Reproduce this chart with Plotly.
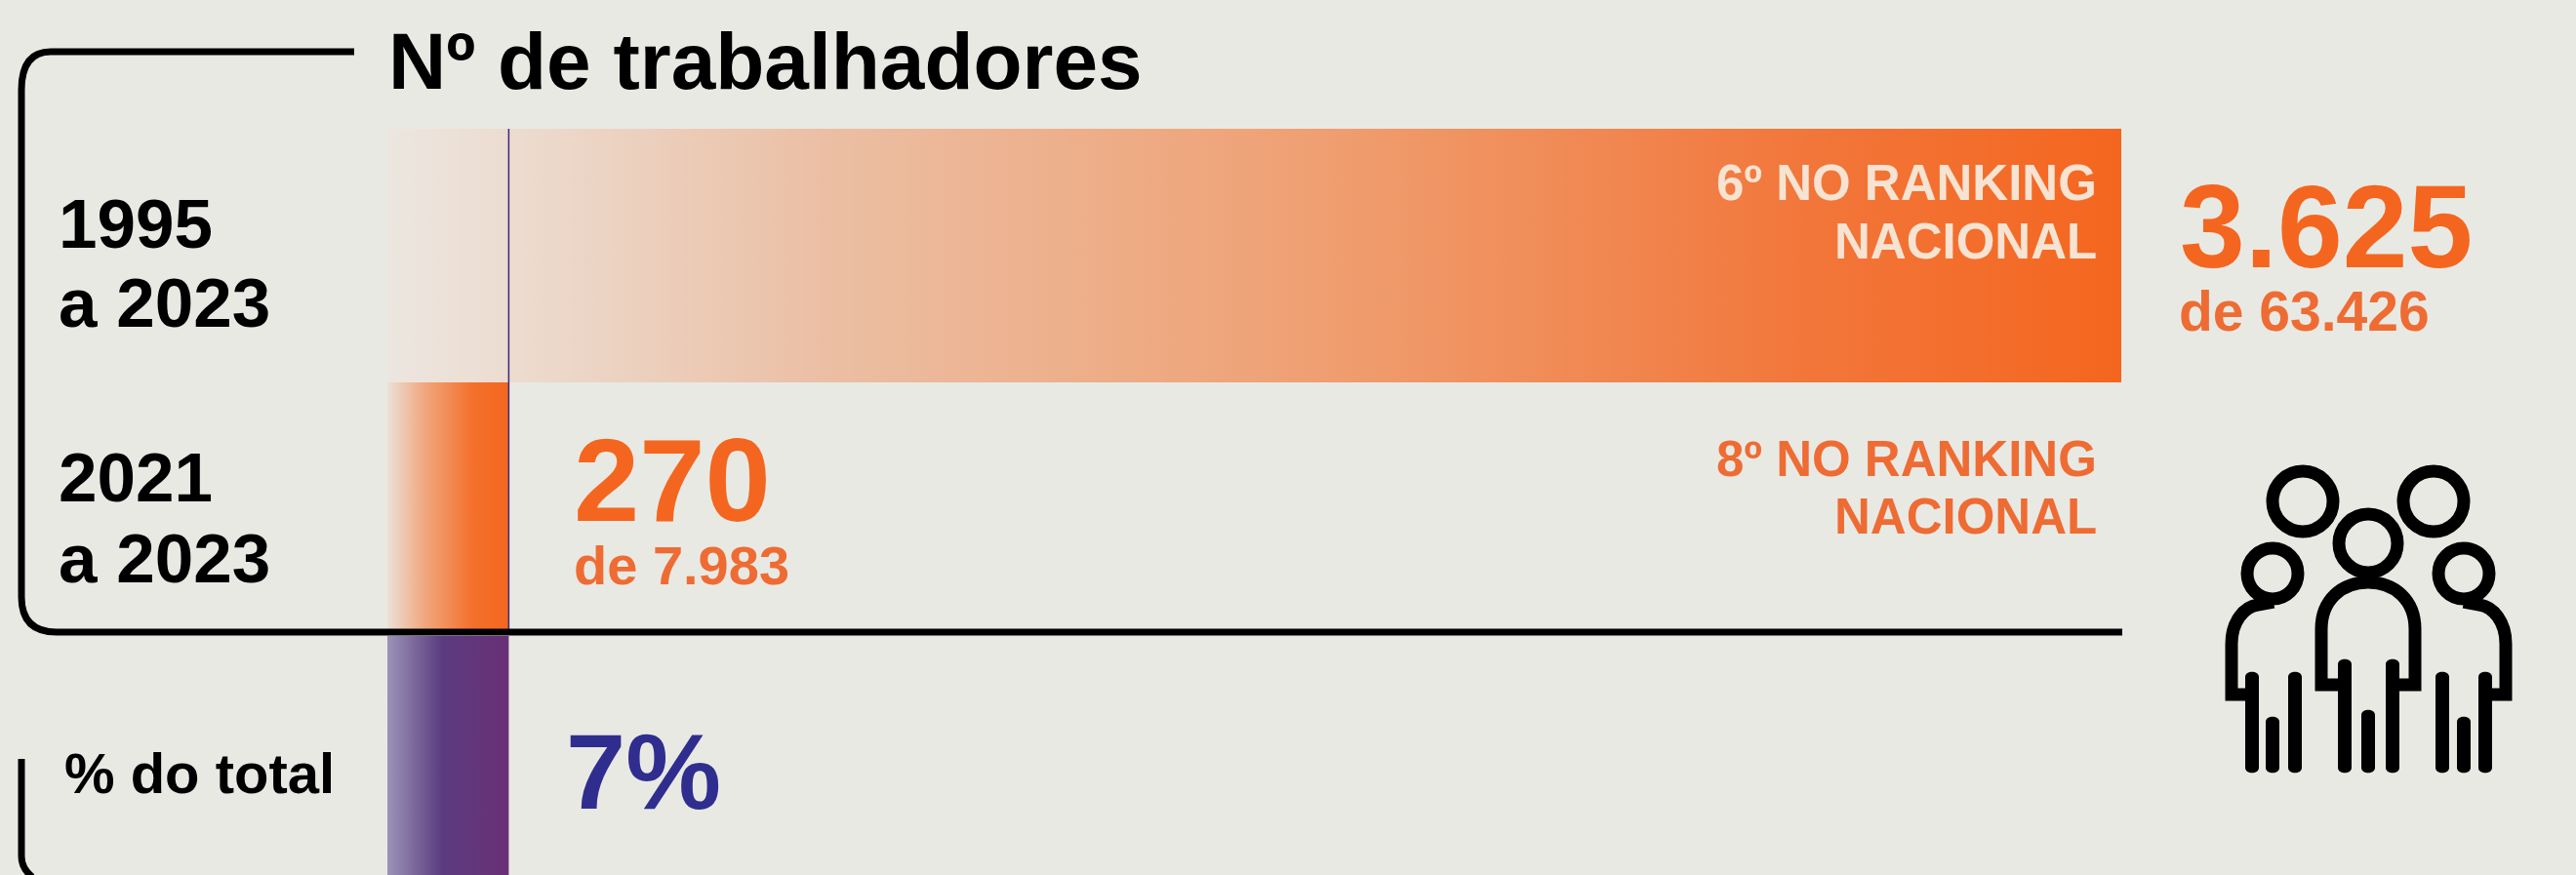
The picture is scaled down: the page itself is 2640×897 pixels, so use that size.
import plotly.graph_objects as go

# ---- data ----
row_label_lines = [["1995", "a 2023"], ["2021", "a 2023"], ["% do total"]]
worker_counts = ["3.625", "270"]
worker_totals = ["de 63.426", "de 7.983"]
bar_share_pct = [100, 7, 7]          # bar length relative to the longest bar
share_label = "7%"
rank_label_lines = [["6º NO RANKING", "NACIONAL"], ["8º NO RANKING", "NACIONAL"]]
title_text = "Nº de trabalhadores"

# ---- style and layout constants ----
W, H = 2640, 897
BG = "#e9e9e4"
ORANGE = "#f4661f"
PURPLE = "#2f2e8f"
FONT = "Liberation Sans"
ROW_EDGES = [(132, 392), (392, 648), (652, 897)]
BAR_LEFT, BAR_RIGHT = 397, 2174
GRADIENTS = [
    [[0, "#ece6e0"], [0.07, "#ecdcd0"], [0.25, "#ebbfa4"], [0.53, "#efa073"], [0.82, "#f2763a"], [1, ORANGE]],
    [[0, "#ece0d6"], [0.3, "#f0a880"], [0.7, "#f4702c"], [1, ORANGE]],
    [[0, "#9c93b8"], [0.45, "#5b3c80"], [1, "#6a2f75"]],
]

x_per_px = 100 / (BAR_RIGHT - BAR_LEFT)
fig = go.Figure()

# bars: each one drawn on the percent axis, filled with a horizontal gradient
for share, (top, bottom), grad in zip(bar_share_pct, ROW_EDGES, GRADIENTS):
    fig.add_trace(go.Scatter(
        x=[0, share, share, 0, 0], y=[top, top, bottom, bottom, top],
        mode="lines", line=dict(width=0), fill="toself",
        fillgradient=dict(type="horizontal", colorscale=grad),
        hoverinfo="skip", showlegend=False))

shapes = []
px = dict(xref="x2", yref="y")

def stroke(path, width=7, color="#000000"):
    shapes.append(dict(type="path", path=path, line=dict(color=color, width=width), **px))

# thin marker line at the 7% position
shapes.append(dict(type="line", x0=bar_share_pct[1], x1=bar_share_pct[1], y0=132, y1=650,
                   xref="x", yref="y", line=dict(color="#3d2a78", width=1.5)))
# bracket frame
stroke("M 363 53 L 52 53 Q 22 53 22 92 L 22 612 Q 22 648 58 648 L 2175 648")
stroke("M 22 778 L 22 878 Q 22 890 33 899")

# people icon
def circle(cx, cy, r, w=13):
    k = 0.5523 * r
    stroke(f"M {cx-r} {cy} C {cx-r} {cy-k} {cx-k} {cy-r} {cx} {cy-r} "
           f"C {cx+k} {cy-r} {cx+r} {cy-k} {cx+r} {cy} "
           f"C {cx+r} {cy+k} {cx+k} {cy+r} {cx} {cy+r} "
           f"C {cx-k} {cy+r} {cx-r} {cy+k} {cx-r} {cy} Z", w)

def leg(x, y0, y1, w=14):
    r = w / 2
    shapes.append(dict(type="path", fillcolor="#000000", line=dict(width=0),
        path=f"M {x-r} {y0+r} C {x-r} {y0} {x+r} {y0} {x+r} {y0+r} L {x+r} {y1-r} "
             f"C {x+r} {y1} {x-r} {y1} {x-r} {y1-r} Z", **px))

for cx, cy, r in [(2360, 514, 31), (2494, 514, 31), (2427, 557, 30), (2329, 588, 26), (2525, 588, 26)]:
    circle(cx, cy, r)
stroke("M 2398 702 L 2379 702 L 2379 645 C 2379 615 2400 597 2427 597 "
       "C 2454 597 2475 615 2475 645 L 2475 702 L 2457 702", 13)
stroke("M 2304 712 L 2287 712 L 2287 660 C 2287 637 2300 622 2314 620 L 2330 617", 13)
stroke("M 2550 712 L 2568 712 L 2568 660 C 2568 637 2555 622 2541 620 L 2525 617", 13)
for x, y0, y1 in [(2403, 674, 794), (2452, 674, 794), (2427, 726, 794),
                  (2308, 687, 794), (2352, 687, 794), (2329, 733, 794),
                  (2503, 687, 794), (2547, 687, 794), (2525, 733, 794)]:
    leg(x, y0, y1)

# text
annots = []
def text(t, x, y, size, color="#000000", weight=700, anchor="left"):
    annots.append(dict(text=t, x=x, y=y, xref="x2", yref="y", xanchor=anchor, yanchor="middle",
                       showarrow=False, align=anchor, borderpad=0, borderwidth=0,
                       font=dict(family=FONT, size=size, color=color, weight=weight)))

text(title_text, 398, 62, 82)
for line, y in zip(row_label_lines[0], (229, 310)):
    text(line, 60, y, 71)
for line, y in zip(row_label_lines[1], (489, 572)):
    text(line, 60, y, 71)
text(row_label_lines[2][0], 66, 792, 58)
text(worker_counts[0], 2234, 232, 120, ORANGE)
text(worker_totals[0], 2233, 319, 57, "#ee6c33")
text(worker_counts[1], 588, 492, 121, ORANGE)
text(worker_totals[1], 588, 579, 56, "#ee6c33")
text(share_label, 580, 790, 110, PURPLE)
for line, y in zip(rank_label_lines[0], (187, 247)):
    text(line, 2149, y, 51, "#f6e3d2", anchor="right")
for line, y in zip(rank_label_lines[1], (470, 529)):
    text(line, 2149, y, 51, "#ee6c33", anchor="right")

hidden = dict(visible=False, showgrid=False, zeroline=False, fixedrange=True)
fig.update_layout(
    width=W, height=H, margin=dict(l=0, r=0, t=0, b=0, pad=0),
    autosize=False,
    paper_bgcolor=BG, plot_bgcolor=BG, showlegend=False,
    xaxis=dict(range=[-BAR_LEFT * x_per_px, (W - BAR_LEFT) * x_per_px], domain=[0, 1], **hidden),
    xaxis2=dict(range=[0, W], overlaying="x", anchor="y", domain=[0, 1], **hidden),
    yaxis=dict(range=[H, 0], domain=[0, 1], **hidden),
    shapes=shapes, annotations=annots,
)
fig.write_html("out.html", config=dict(displayModeBar=False),
               post_script="document.body.style.margin='0';document.body.style.background='%s';" % BG)
